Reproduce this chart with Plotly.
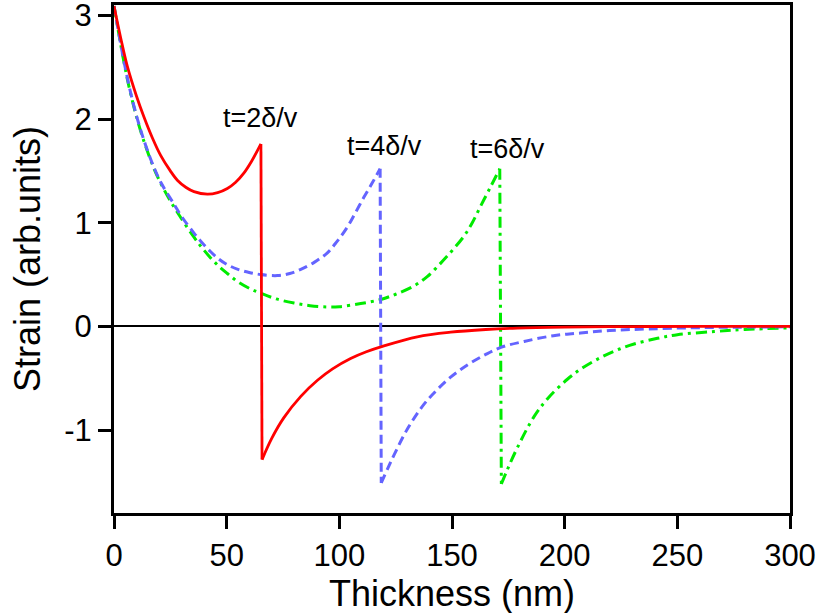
import plotly.graph_objects as go

# Thickness (nm) and strain (arb. units)
red_x = [0, 3, 5.9, 10, 13.3, 17, 20.7, 25, 28.1, 32, 35.5, 41.4, 46, 50.3, 54, 57.7, 61, 65.2,
         65.7, 70, 75.4, 82.9, 90.3, 97, 105, 112, 119.8, 134.6, 149.4, 165, 179, 200, 230, 260, 300]
red_y = [3.09, 2.78, 2.51, 2.22, 2.02, 1.82, 1.65, 1.50, 1.41, 1.34, 1.30, 1.275, 1.29, 1.33, 1.39, 1.48, 1.59, 1.76,
         -1.285, -1.08, -0.88, -0.675, -0.52, -0.41, -0.31, -0.245, -0.188, -0.10, -0.056, -0.03, -0.016, -0.007, -0.002, 0.0, 0.0]
red_jump = 17

blue_x = [0, 2, 4.4, 7, 10.4, 14, 17.8, 21, 26.6, 30, 35.5, 39, 42.9, 46.5, 50.3, 55, 60, 65.1, 72.5, 78, 82.9, 89,
          94.7, 99, 103.6, 107, 111, 114.5, 118.1,
          118.6, 121.5, 124.3, 130.2, 137.6, 143, 149.4, 157, 165, 172, 182, 195, 207, 220, 236.7, 260, 300]
blue_y = [3.09, 2.84, 2.56, 2.29, 2.00, 1.75, 1.53, 1.38, 1.18, 1.06, 0.90, 0.81, 0.72, 0.65, 0.595, 0.55, 0.52, 0.50, 0.49, 0.51, 0.55, 0.62,
          0.71, 0.82, 0.96, 1.09, 1.25, 1.38, 1.52,
          -1.51, -1.37, -1.24, -0.99, -0.75, -0.62, -0.49, -0.37, -0.27, -0.20, -0.145, -0.09, -0.064, -0.04, -0.025, -0.012, -0.004]
blue_jump = 28

green_x = [0, 2, 4.4, 7, 10.4, 14, 17.8, 21, 25, 29.6, 35.5, 39, 42.9, 46.5, 50.3, 55, 60.7, 65.1, 72, 79.9, 87, 94.7,
           100, 109.5, 118.4, 125, 133.1, 139, 145, 150, 155.3, 159, 162.7, 166.5, 171.2,
           171.9, 174.6, 179, 186.4, 192.3, 201.2, 208, 216, 223, 230.8, 241.2, 250, 266.3, 280, 300]
green_y = [3.09, 2.84, 2.55, 2.28, 1.99, 1.74, 1.52, 1.37, 1.21, 1.05, 0.86, 0.76, 0.66, 0.58, 0.51, 0.43, 0.36, 0.32, 0.265, 0.225, 0.20, 0.187,
           0.19, 0.22, 0.26, 0.31, 0.39, 0.48, 0.61, 0.73, 0.87, 1.00, 1.16, 1.32, 1.52,
           -1.52, -1.38, -1.17, -0.87, -0.70, -0.51, -0.40, -0.30, -0.23, -0.17, -0.115, -0.08, -0.05, -0.03, -0.015]
green_jump = 34

labels = ["t=2δ/v", "t=4δ/v", "t=6δ/v"]
label_x = [65.2, 120.2, 174.7]
label_y = [2.01, 1.74, 1.71]

x_ticks = [0, 50, 100, 150, 200, 250, 300]
y_ticks = [-1, 0, 1, 2, 3]
y_tick_text = ["-1", "0", "1", "2", "3"]

x_title = "Thickness (nm)"
y_title = "Strain (arb.units)"

FONT = "Liberation Sans, Arial, sans-serif"
W, H = 817, 613
ML, MR, MT, MB = 114, 27, 5, 100
PW, PH = W - ML - MR, H - MT - MB

fig = go.Figure()

def add_curve(xs, ys, j, color, width, dash):
    line = dict(color=color, width=width, dash=dash)
    fig.add_trace(go.Scatter(x=xs[:j + 1], y=ys[:j + 1], mode="lines",
                             line=dict(line, shape="spline", smoothing=1.0), showlegend=False, hoverinfo="skip"))
    fig.add_trace(go.Scatter(x=xs[j:j + 2], y=ys[j:j + 2], mode="lines",
                             line=dict(line, shape="linear"), showlegend=False, hoverinfo="skip"))
    fig.add_trace(go.Scatter(x=xs[j + 1:], y=ys[j + 1:], mode="lines",
                             line=dict(line, shape="spline", smoothing=1.0), showlegend=False, hoverinfo="skip"))

add_curve(green_x, green_y, green_jump, "rgb(0,235,0)", 3, "11px,5px,3px,5px")
add_curve(blue_x, blue_y, blue_jump, "rgb(100,100,255)", 3, "9px,5px")
add_curve(red_x, red_y, red_jump, "rgb(255,0,0)", 2.8, "solid")

for t, lx, ly in zip(labels, label_x, label_y):
    fig.add_annotation(x=lx, y=ly, text=t, showarrow=False,
                       font=dict(family=FONT, size=27, color="black"))

# axis titles placed as paper annotations
fig.add_annotation(text=x_title, xref="paper", yref="paper", x=0.5, y=-(593 - (MT + PH)) / PH,
                   xanchor="center", yanchor="middle", showarrow=False,
                   font=dict(family=FONT, size=36, color="black"))
fig.add_annotation(text=y_title, xref="paper", yref="paper", x=-(ML - 27) / PW, y=0.5,
                   xanchor="center", yanchor="middle", textangle=-90, showarrow=False,
                   font=dict(family=FONT, size=36, color="black"))

axis_common = dict(showgrid=False, showline=True, linecolor="black", linewidth=3, mirror=True,
                   ticks="outside", ticklen=13, tickwidth=3, tickcolor="black",
                   tickfont=dict(family=FONT, size=31, color="black"),
                   automargin=False, ticklabeloverflow="allow")

fig.update_layout(
    width=W, height=H,
    margin=dict(l=ML, r=MR, t=MT, b=MB, autoexpand=False),
    paper_bgcolor="white", plot_bgcolor="white",
    xaxis=dict(axis_common, range=[0, 300], tickvals=x_ticks, zeroline=False),
    yaxis=dict(axis_common, range=[-1.8, 3.1], tickvals=y_ticks, ticktext=y_tick_text,
               zeroline=True, zerolinecolor="black", zerolinewidth=2),
)

fig.write_html("out.html", config={"displayModeBar": False},
               post_script="document.body.style.margin='0px';")
